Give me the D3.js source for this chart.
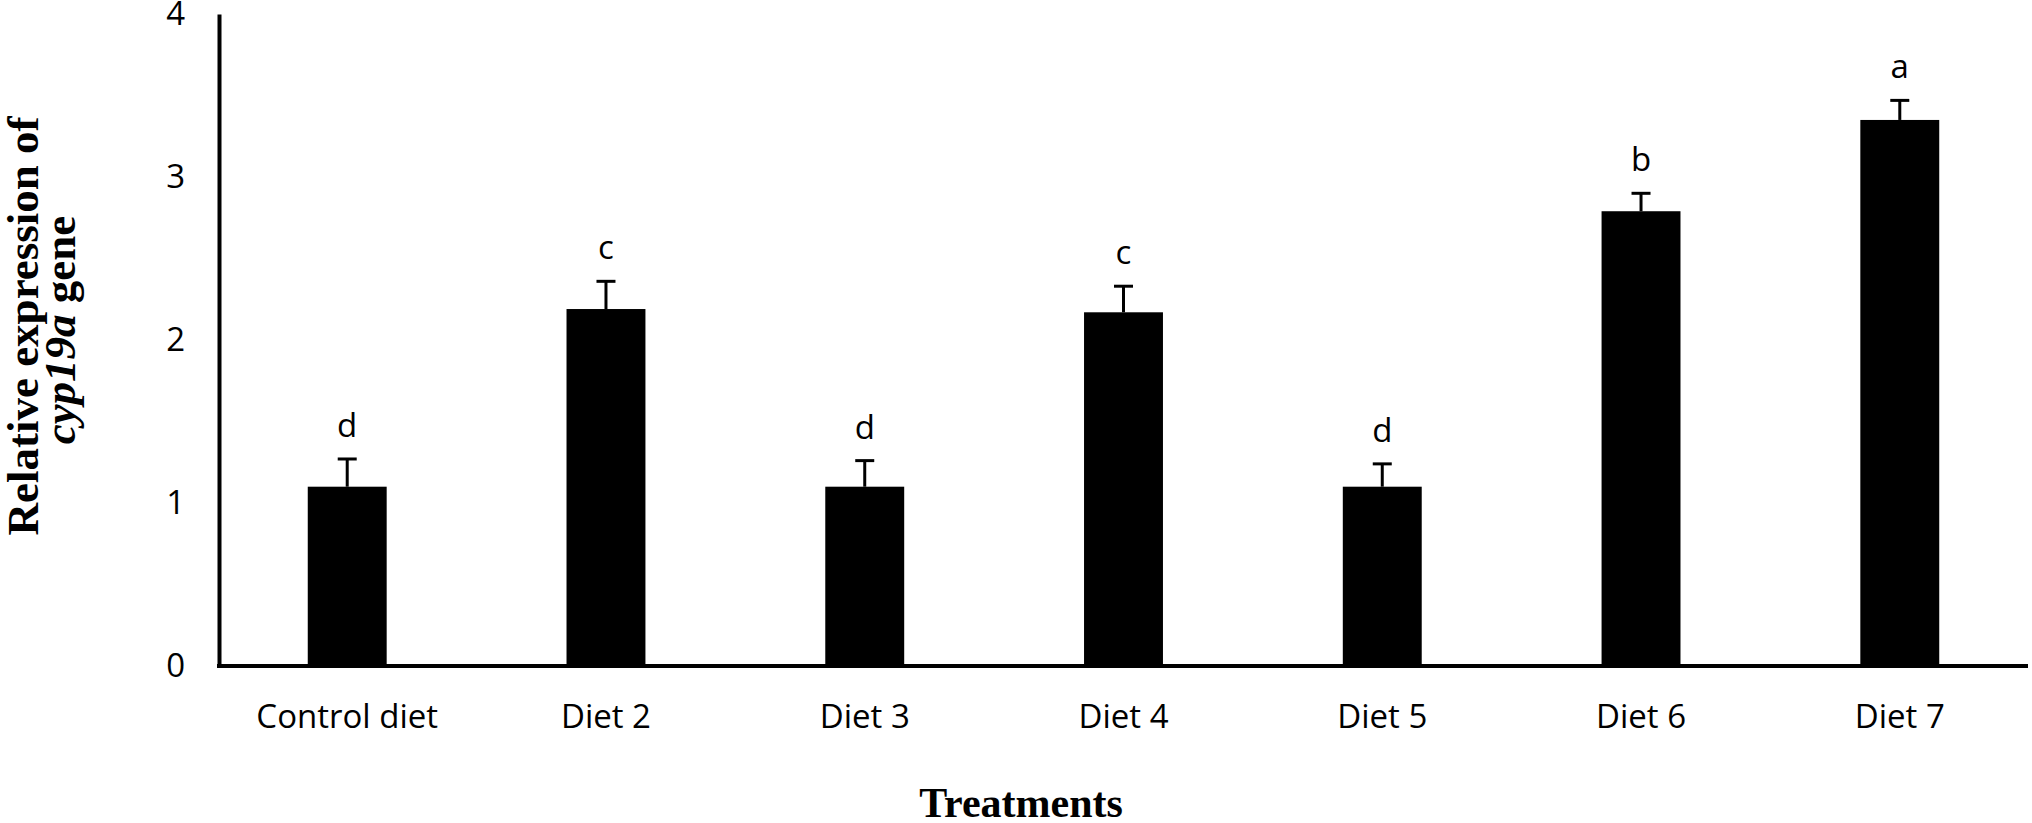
<!DOCTYPE html>
<html>
<head>
<meta charset="utf-8">
<script src="https://cdn.jsdelivr.net/npm/d3@7"></script>
<style>
  body { margin: 0; background: #fff; }
  .tick text { font-family: "Open Sans", sans-serif; font-size: 33px; fill: #000; }
  .letter { font-family: "Open Sans", sans-serif; font-size: 33px; fill: #000; }
  .ttl { font-family: "Liberation Serif", "Times New Roman", serif; font-weight: bold; fill: #000; }
</style>
</head>
<body>
<svg id="chart"></svg>
<script>
// data
var treatments = ["Control diet", "Diet 2", "Diet 3", "Diet 4", "Diet 5", "Diet 6", "Diet 7"];
var expression = [1.10, 2.19, 1.10, 2.17, 1.10, 2.79, 3.35];
var errors = [0.17, 0.17, 0.16, 0.16, 0.14, 0.11, 0.12];
var letters = ["d", "c", "d", "c", "d", "b", "a"];
var yTicks = [0, 1, 2, 3, 4];

var width = 2032, height = 823;
// plot edges (note: "top" is reserved on window, so use other names)
var plotLeft = 219, plotRight = 2028, plotTop = 14, plotBottom = 666;

var svg = d3.select("#chart")
    .attr("width", width)
    .attr("height", height);

var x = d3.scaleBand()
    .domain(treatments)
    .range([plotLeft, plotRight])
    .paddingInner(0.695)
    .paddingOuter(0.343);

var y = d3.scaleLinear()
    .domain([0, 4])
    .range([plotBottom, plotTop]);

// bars
svg.selectAll("rect.bar")
    .data(treatments)
  .enter().append("rect")
    .attr("class", "bar")
    .attr("x", function(d) { return x(d); })
    .attr("width", x.bandwidth())
    .attr("y", function(d, i) { return y(expression[i]); })
    .attr("height", function(d, i) { return y(0) - y(expression[i]); })
    .attr("fill", "#000");

// error bars (upper half only)
var capW = 19;
var err = svg.selectAll("g.err")
    .data(treatments)
  .enter().append("g")
    .attr("class", "err")
    .attr("stroke", "#000")
    .attr("stroke-width", 3);

err.append("line")
    .attr("x1", function(d) { return x(d) + x.bandwidth() / 2; })
    .attr("x2", function(d) { return x(d) + x.bandwidth() / 2; })
    .attr("y1", function(d, i) { return y(expression[i]); })
    .attr("y2", function(d, i) { return y(expression[i] + errors[i]); });

err.append("line")
    .attr("x1", function(d) { return x(d) + x.bandwidth() / 2 - capW / 2; })
    .attr("x2", function(d) { return x(d) + x.bandwidth() / 2 + capW / 2; })
    .attr("y1", function(d, i) { return y(expression[i] + errors[i]); })
    .attr("y2", function(d, i) { return y(expression[i] + errors[i]); });

// significance letters
svg.selectAll("text.letter")
    .data(treatments)
  .enter().append("text")
    .attr("class", "letter")
    .attr("text-anchor", "middle")
    .attr("x", function(d) { return x(d) + x.bandwidth() / 2; })
    .attr("y", function(d, i) { return y(expression[i] + errors[i]) - 22; })
    .text(function(d, i) { return letters[i]; });

// axes
var yAxis = svg.append("g")
    .attr("transform", "translate(" + plotLeft + ",0)")
    .call(d3.axisLeft(y).tickValues(yTicks).tickFormat(d3.format("d"))
      .tickSize(0).tickSizeOuter(0).tickPadding(34));
yAxis.select(".domain").attr("stroke", "#000").attr("stroke-width", 4);

var xAxis = svg.append("g")
    .attr("transform", "translate(0," + plotBottom + ")")
    .call(d3.axisBottom(x).tickSize(0).tickSizeOuter(0));
xAxis.select(".domain")
    .attr("d", "M" + (plotLeft - 2) + ",0H" + plotRight)
    .attr("stroke", "#000").attr("stroke-width", 4);
xAxis.selectAll(".tick text").attr("y", 62).attr("dy", 0);

// axis titles
svg.append("text")
    .attr("class", "ttl")
    .attr("text-anchor", "middle")
    .attr("x", 1021)
    .attr("y", 817)
    .style("font-size", "42px")
    .text("Treatments");

var yt = svg.append("g")
    .attr("transform", "rotate(-90)");
yt.append("text")
    .attr("class", "ttl")
    .attr("text-anchor", "middle")
    .attr("x", -326)
    .attr("y", 38)
    .style("font-size", "45px")
    .text("Relative expression of");
var l2 = yt.append("text")
    .attr("class", "ttl")
    .attr("text-anchor", "middle")
    .attr("x", -330)
    .attr("y", 75)
    .style("font-size", "45px");
l2.append("tspan").style("font-style", "italic").text("cyp19a");
l2.append("tspan").text(" gene");
</script>
</body>
</html>
